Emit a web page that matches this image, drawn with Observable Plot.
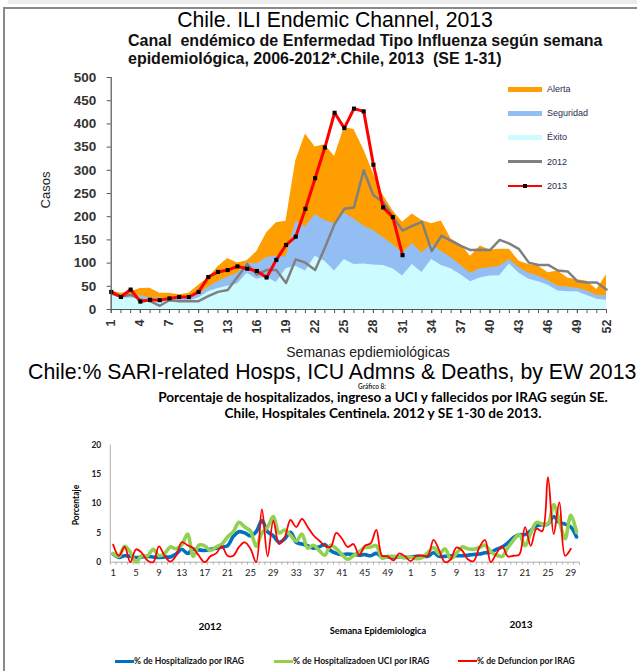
<!DOCTYPE html>
<html><head><meta charset="utf-8">
<script src="https://cdn.jsdelivr.net/npm/d3@7"></script>
<script src="https://cdn.jsdelivr.net/npm/@observablehq/plot@0.6"></script>
<style>
body{margin:0;background:#fff;}
#root{position:relative;width:637px;height:671px;overflow:hidden;background:#fff;}
.abs{position:absolute;white-space:pre;line-height:1;}
svg{overflow:visible;}
</style></head><body><div id="root"></div>
<script>
// ---------- Chart 1: ILI endemic channel ----------
const weeks = d3.range(1, 53);
const alerta = [40,35,38,45,46,35,35,32,35,52, 68,92,110,100,105,125,165,187,190,320, 378,350,355,330,392,388,345,293,246,213, 188,206,192,185,191,152,140,115,137,128, 130,130,104,97,93,79,83,68,64,61, 43,75];
const seguridad = [35,27,28,30,25,25,22,25,27,32, 48,60,70,78,100,98,112,115,113,190, 178,205,192,185,208,195,180,170,155,140, 122,142,122,140,125,112,95,78,88,90, 93,108,90,78,72,62,50,48,46,40, 30,30];
const exito = [30,25,25,25,20,15,18,17,18,25, 38,45,50,55,78,65,70,58,88,93, 83,115,104,83,108,97,98,96,95,88, 72,97,80,108,95,88,75,60,68,72, 73,98,78,65,60,52,40,38,38,30, 22,20];
const cases2012 = [35,28,32,22,18,8,20,18,18,18, 29,38,42,70,98,75,85,85,57,108, 101,85,133,184,217,220,300,246,231,200, 170,180,189,126,159,148,137,128,129,128, 150,142,130,101,96,96,84,82,61,58, 58,43];
const cases2013 = [38,27,43,17,21,20,24,27,27,38, 70,81,85,93,88,83,69,107,139,157, 217,283,349,424,391,433,427,312,220,199, 117];
const yTicks1 = [0,50,100,150,200,250,300,350,400,450,500];
const xLabelWeeks1 = [1,4,7,10,13,16,19,22,25,28,31,34,37,40,43,46,49,52];
const legend1 = ["Alerta","Seguridad","Éxito","2012","2013"];

// ---------- Chart 2: SARI percentages ----------
const nWeeks2012 = 52, nWeeks2013 = 30;
const hosp = [1.4,0.8,1.1,1.0,0.8,0.9,1.0,0.9,0.8,0.9, 0.9,1.4,2.2,1.5,2.2,2.1,2.0,2.2,2.4,2.6, 2.8,4.4,5.2,5.0,4.5,5.2,7.1,5.2,4.5,3.4, 4.0,5.1,3.4,3.1,2.8,2.4,2.6,3.0,2.0,1.5, 1.3,1.4,1.3,1.2,1.3,1.1,1.5,0.9,0.9,0.8, 0.9,0.8,0.9,1.0,1.0,1.0,1.6,1.0,1.0,1.1, 1.1,1.1,1.2,1.3,1.4,1.6,1.7,2.2,2.6,3.3, 4.2,4.7,4.7,5.4,6.2,6.4,6.5,7.8,6.8,6.5, 6.0,4.3];
const uci = [1.5,1.0,2.7,1.7,0.0,1.1,1.1,2.2,1.1,1.5, 2.6,2.3,3.0,4.8,1.0,2.9,2.8,2.0,2.6,3.1, 4.3,5.2,6.8,6.0,5.3,2.7,5.0,6.0,7.8,5.0, 5.5,4.6,3.6,4.8,2.4,2.9,2.0,1.2,2.9,2.3, 1.3,0.5,1.1,1.8,2.5,2.6,2.8,0.7,1.0,1.0, 0.9,0.8,0.9,0.6,0.8,1.6,2.5,1.4,2.3,0.6, 1.5,2.6,2.3,2.2,2.5,2.9,1.8,1.2,1.0,2.5, 3.8,4.7,2.8,5.0,6.8,6.5,6.5,9.8,7.0,4.0, 8.0,5.1];
const defuncion = [3.0,1.1,2.6,0,2.2,1.6,0.3,0,2.7,1.1, 0.1,1.1,3.4,2.9,2.4,1.1,0,1.0,1.5,2.7, 1.1,1.1,2.6,3.4,2.3,0,9.0,1.0,7.1,3.1, 4.3,7.2,6.0,7.4,6.0,4.6,3.7,2.8,2.6,5.0, 4.0,2.6,3.1,1.2,2.8,3.2,5.5,1.1,1.0,0.3, 1.5,1.0,0.2,1.1,1.1,1.1,3.8,2.0,0,0.5, 2.5,2.0,0.5,0.2,2.5,3.8,0,1.5,2.7,1.0, 1.1,1.3,6.0,2.8,5.7,5.3,14.5,4.8,10.2,1.1, 2.3];
const yTicks2 = [0,5,10,15,20];
const legend2 = ["% de Hospitalizado por IRAG","% de Hospitalizadoen UCI por IRAG","% de Defuncion por IRAG"];

// ---------- colours ----------
const C = {alerta:"#FF9E00", seg:"#93BEF4", exito:"#CCFCFF", g2012:"#808080", r2013:"#FF0000",
           hosp:"#0070C0", uci:"#92D050", def:"#FF0000"};

const root = document.getElementById("root");
function addText(s, o){
  const d = document.createElement("div");
  d.className = "abs"; d.textContent = s;
  const tx = o.a === "middle" ? "-50%" : (o.a === "end" ? "-100%" : "0");
  Object.assign(d.style, {left:o.x+"px", top:o.y+"px", fontSize:o.size+"px",
    fontWeight:o.w||"normal", fontFamily:o.f||"'Liberation Sans', Arial, sans-serif",
    color:o.c||"#000", transform:`translate(${tx},-50%)`+(o.rot?` rotate(${o.rot}deg)`:""),
    background:o.bg||"transparent", zIndex:o.z||1, lineHeight:o.lh||"1"});
  root.appendChild(d); return d;
}
function addBox(x,y,w,h,color,z){
  const d = document.createElement("div");
  Object.assign(d.style,{position:"absolute",left:x+"px",top:y+"px",width:w+"px",height:h+"px",background:color,zIndex:z||1});
  root.appendChild(d); return d;
}

// frame
addBox(8,0,629,3.5,"#ececec");
addBox(3,7,634,1.5,"#8a8a8a");
addBox(3,7,1.5,664,"#8a8a8a");

// ---------- chart 1 ----------
const t1 = weeks.map((w,i)=>({w, alerta:alerta[i], seg:seguridad[i], exito:exito[i], c2012:cases2012[i]}));
const t13 = cases2013.map((v,i)=>({w:weeks[i], v}));
const f1 = "'Liberation Sans', Arial, sans-serif";
const p1 = Plot.plot({
  width:637, height:300, marginLeft:110.7, marginRight:31, marginTop:17, marginBottom:51,
  x:{domain:[1,52]}, y:{domain:[0,500]},
  style:{fontFamily:f1, background:"transparent"},
  marks:[
    Plot.areaY(t1,{x:"w", y:"alerta", fill:C.alerta}),
    Plot.areaY(t1,{x:"w", y:"seg", fill:C.seg}),
    Plot.areaY(t1,{x:"w", y:"exito", fill:C.exito}),
    Plot.lineY(t1,{x:"w", y:"c2012", stroke:C.g2012, strokeWidth:2.5}),
    Plot.lineY(t13,{x:"w", y:"v", stroke:C.r2013, strokeWidth:3}),
    Plot.dot(t13,{x:"w", y:"v", symbol:"square", r:2.3, fill:"#000"}),
    Plot.ruleX([1],{stroke:"#555", strokeWidth:1.2}),
    Plot.ruleY([0],{stroke:"#555", strokeWidth:1.2}),
    Plot.axisY({ticks:yTicks1, tickSize:4, tickPadding:11, label:null, fontSize:13.5, fontWeight:"bold", fill:"#333", stroke:"#555"}),
    Plot.axisX({ticks:weeks, tickSize:4, tickFormat:()=>"", label:null, stroke:"#555"}),
    Plot.axisX({ticks:xLabelWeeks1, tickSize:4, tickPadding:6, tickRotate:-90, label:null, fontSize:12.5, fontWeight:"bold", fill:"#333", stroke:"#555"})
  ]
});
Object.assign(p1.style,{position:"absolute", left:"0px", top:"60px"});
root.appendChild(p1);

// legend chart 1
const legCol1 = [C.alerta, C.seg, C.exito, C.g2012, C.r2013];
legend1.forEach((lab,i)=>{
  const y = 89 + i*24.2;
  const thick = i < 3 ? 5 : 2.6;
  addBox(508, y-thick/2, 34, thick, legCol1[i], 2);
  if (i === 4) addBox(523, y-2.2, 4.4, 4.4, "#000", 3);
  addText(lab,{x:547, y:y, size:9, c:"#1F2D4D"});
});

addText("Chile. ILI Endemic Channel, 2013",{x:335, y:20, size:21.2, a:"middle"});
addText("Canal  endémico de Enfermedad Tipo Influenza según semana",{x:128, y:41, size:16, w:"bold", c:"#111"});
addText("epidemiológica, 2006-2012*.Chile, 2013  (SE 1-31)",{x:128, y:58.5, size:16, w:"bold", c:"#111"});
addText("Casos",{x:45, y:190, size:13, rot:-90, a:"middle", c:"#222"});
addText("Semanas epdiemiológicas",{x:368, y:352, size:14, a:"middle", c:"#222"});

// ---------- chart 2 ----------
const weekLabel = [...d3.range(1,nWeeks2012+1), ...d3.range(1,nWeeks2013+1)];
const t2 = weekLabel.map((w,i)=>({i, hosp:hosp[i], uci:uci[i], def:defuncion[i]}));
const labIdx = weekLabel.map((w,i)=>i).filter(i => (weekLabel[i]-1)%4===0);
const f2 = "Lato, 'Open Sans', sans-serif";
const p2 = Plot.plot({
  width:637, height:140, marginLeft:109.8, marginRight:58.1, marginTop:4.5, marginBottom:18.3,
  x:{domain:[-0.5, weekLabel.length-0.5]}, y:{domain:[0,20]},
  style:{fontFamily:f2, background:"transparent"},
  marks:[
    Plot.ruleX([-0.5],{stroke:"#b0b0b0"}),
    Plot.ruleY([0],{stroke:"#b0b0b0"}),
    Plot.axisY({ticks:yTicks2, tickSize:0, tickPadding:9, label:null, fontSize:8.5, fontWeight:"bold", fill:"#1a1a2a"}),
    Plot.axisX({ticks:d3.range(-0.5, weekLabel.length, 1), tickSize:3, tickFormat:()=>"", label:null, stroke:"#b0b0b0"}),
    Plot.axisX({ticks:labIdx, tickFormat:i=>weekLabel[i], tickSize:0, tickPadding:7, label:null, fontSize:9.5, fill:"#222"}),
    Plot.lineY(t2.filter(d=>d.hosp!=null),{x:"i", y:"hosp", stroke:C.hosp, strokeWidth:3.6, curve:"catmull-rom"}),
    Plot.lineY(t2.filter(d=>d.uci!=null),{x:"i", y:"uci", stroke:C.uci, strokeWidth:3.6, curve:"catmull-rom"}),
    Plot.lineY(t2.filter(d=>d.def!=null),{x:"i", y:"def", stroke:C.def, strokeWidth:1.8, curve:"catmull-rom"})
  ]
});
Object.assign(p2.style,{position:"absolute", left:"0px", top:"440px"});
root.appendChild(p2);

addText("Gráfico 8:",{x:372, y:387, size:6.5, w:"bold", f:f2, a:"middle", c:"#333"});
addText("Chile:% SARI-related Hosps, ICU Admns & Deaths, by EW 2013",{x:28, y:372.5, size:21.3, bg:"#fff", z:5, lh:"0.82"});
addText("Porcentaje de hospitalizados, ingreso a UCI y fallecidos por IRAG según SE.",{x:383, y:398, size:13.6, w:"bold", f:f2, a:"middle", lh:"0.85"});
addText("Chile, Hospitales Centinela. 2012 y SE 1-30 de 2013.",{x:383, y:413.5, size:13.6, w:"bold", f:f2, a:"middle", lh:"0.85"});
addText("Porcentaje",{x:76, y:505, size:8.5, w:"bold", f:f2, rot:-90, a:"middle"});
addText("2012",{x:210, y:626, size:10, w:"bold", f:f2, a:"middle"});
addText("2013",{x:521, y:624, size:10, w:"bold", f:f2, a:"middle"});
addText("Semana Epidemiologica",{x:378, y:631, size:9.2, w:"bold", f:f2, a:"middle"});
const legCol2 = [C.hosp, C.uci, C.def];
const legX2 = [115, 274, 458];
legend2.forEach((lab,i)=>{
  addBox(legX2[i], 661 - (i<2?1.5:0.8), 19, i<2?3:1.6, legCol2[i], 2);
  addText(lab,{x:legX2[i]+19, y:661, size:8.6, w:"bold", f:f2, c:"#111"});
});
</script></body></html>
